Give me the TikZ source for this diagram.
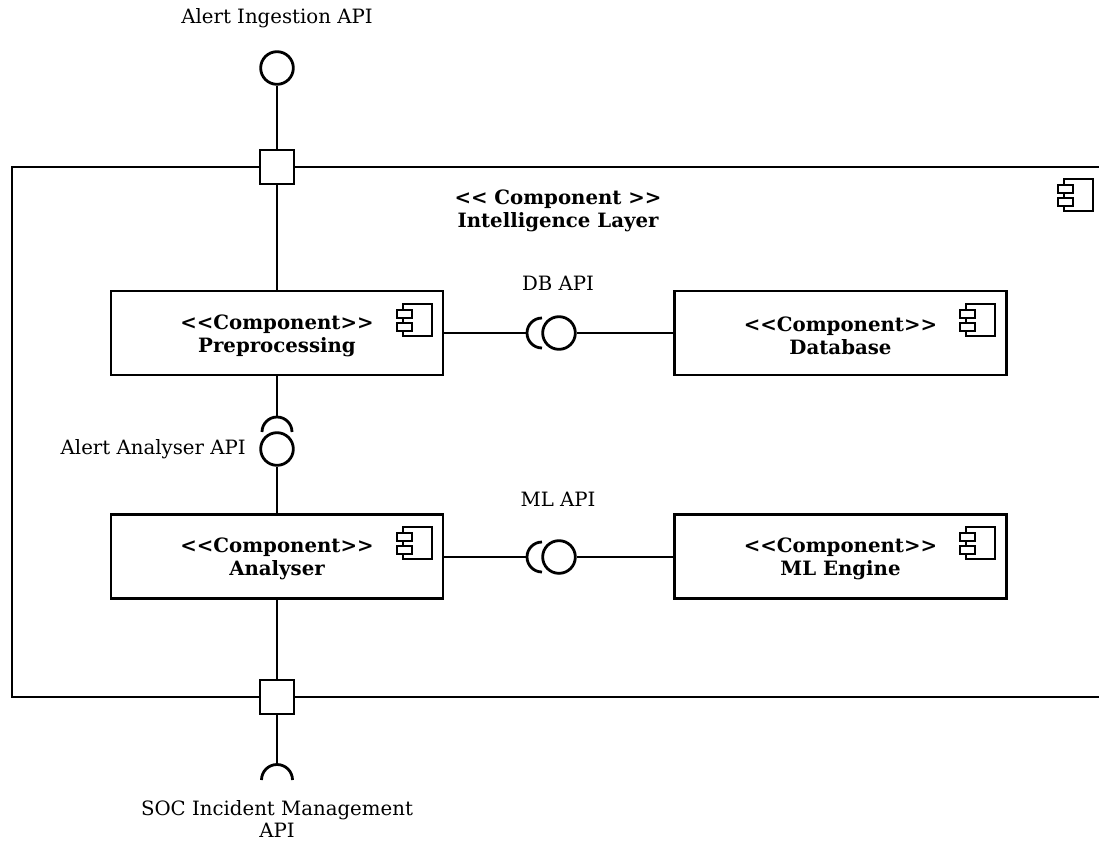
\documentclass[tikz,border=0pt]{standalone}
\usepackage{fontspec}
\setmainfont{DejaVu Serif}
\newcommand{\topstrut}{\rule{0pt}{15pt}}
\begin{document}
\begin{tikzpicture}[x=0.75pt,y=0.75pt,
  line width=2.1pt,
  comp/.style={draw, fill=white, rectangle, minimum width=249pt, minimum height=63pt,
    align=center, font=\bfseries\fontsize{14.8pt}{17.3pt}\selectfont, inner sep=0pt},
  port/.style={draw, fill=white, rectangle, minimum size=25.5pt, inner sep=0pt},
  ball/.style={draw, fill=white, circle, minimum size=24.5pt, inner sep=0pt},
  lbl/.style={font=\fontsize{14.8pt}{16.5pt}\selectfont, inner sep=0pt, align=center},
  title/.style={font=\bfseries\fontsize{14.8pt}{17.3pt}\selectfont, inner sep=0pt, align=center},
  compicon/.pic={
    \draw[line width=1.9pt] (-29,0) rectangle (0,-32);
    \draw[line width=1.9pt, fill=white] (-35,-6) rectangle (-20,-14);
    \draw[line width=1.9pt, fill=white] (-35,-19) rectangle (-20,-27);
  }]
\useasboundingbox (0,0) rectangle (1099,-843);

% enclosing component (its right side runs past the page edge)
\draw (1099,-167) -- (12,-167) -- (12,-697) -- (1099,-697);
\node[title] (layer) at (558,-210.5) {<{}< Component >{}>\\Intelligence Layer};
\pic at (1093,-179) {compicon};

% inner components
\node[comp] (prep) at (277,-333) {\topstrut<{}<Component>{}>\\Preprocessing};
\node[comp] (db)   at (840.5,-333) {\topstrut<{}<Component>{}>\\Database};
\node[comp] (ana)  at (277,-556.5) {\topstrut<{}<Component>{}>\\Analyser};
\node[comp] (ml)   at (840.5,-556.5) {\topstrut<{}<Component>{}>\\ML Engine};
\pic at (432,-304) {compicon};
\pic at (995,-304) {compicon};
\pic at (432,-527) {compicon};
\pic at (995,-527) {compicon};

% ports on the boundary
\node[port] (ptop) at (277,-167) {};
\node[port] (pbot) at (277,-697) {};

% provided interface: Alert Ingestion API
\node[ball] (ingest) at (277,-68) {};
\node[lbl] (ingestlbl) at (277,-18) {Alert Ingestion API};
\draw (ingest) -- (ptop);
\draw (ptop) -- (prep);

% DB API
\node[ball] (dbball) at (559,-333) {};
\coordinate (dbsock) at (527,-333);
\draw (542,-318) arc (90:270:15);
\draw (prep.east) -- (dbsock);
\draw (dbball) -- (db.west);
\node[lbl] (dblbl) at (558,-283) {DB API};

% ML API
\node[ball] (mlball) at (559,-557) {};
\coordinate (mlsock) at (527,-557);
\draw (542,-542) arc (90:270:15);
\draw (ana.east |- mlsock) -- (mlsock);
\draw (mlball) -- (ml.west |- mlball);
\node[lbl] (mllbl) at (558,-499) {ML API};

% Alert Analyser API
\node[ball] (aaball) at (277,-449) {};
\coordinate (aasock) at (277,-417);
\draw (262,-432) arc (180:0:15);
\draw (prep.south) -- (aasock);
\draw (aaball) -- (ana.north);
\node[lbl, anchor=east] (aalbl) at (247,-449) {Alert Analyser API};

% required interface: SOC Incident Management API
\coordinate (socsock) at (277,-765);
\draw (261.5,-780) arc (180:0:15.5);
\draw (ana.south) -- (pbot);
\draw (pbot) -- (socsock);
\node[lbl] (soclbl) at (277,-819) {SOC Incident Management\\API};
\end{tikzpicture}
\end{document}
